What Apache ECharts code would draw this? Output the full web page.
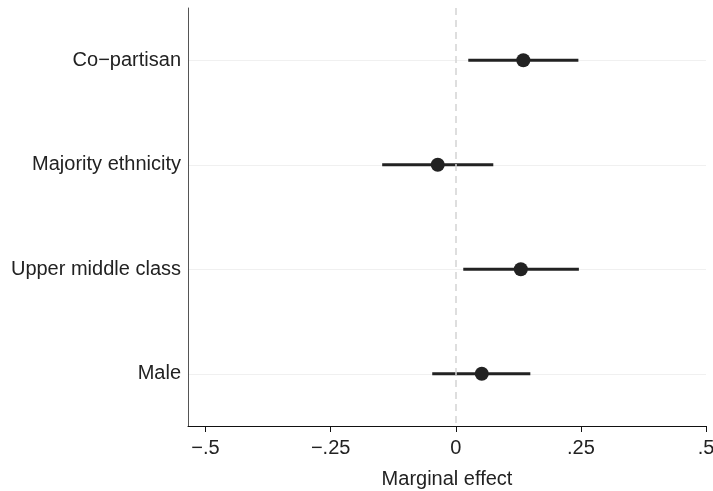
<!DOCTYPE html>
<html>
<head>
<meta charset="utf-8">
<script src="https://cdn.jsdelivr.net/npm/echarts@6/dist/echarts.min.js"></script>
<style>
  html, body { margin: 0; padding: 0; background: #fff; }
  #main { width: 713px; height: 491px; }
</style>
</head>
<body>
<div id="main"></div>
<script>
var categories = ['Co\u2212partisan', 'Majority ethnicity', 'Upper middle class', 'Male'];
var estimates = [0.135, -0.036, 0.130, 0.052];
var lower = [0.025, -0.147, 0.015, -0.047];
var upper = [0.245, 0.075, 0.246, 0.149];
var xTicks = [-0.5, -0.25, 0, 0.25, 0.5];
var xTickLabels = ['\u2212.5', '\u2212.25', '0', '.25', '.5'];

var chartDom = document.getElementById('main');
var myChart = echarts.init(chartDom);
var option;

var font = 'Liberation Sans, Arial, Helvetica, sans-serif';

var ciData = categories.map(function (c, i) { return [c, lower[i], upper[i]]; });
var pointData = categories.map(function (c, i) { return [estimates[i], c]; });

option = {
  animation: false,
  grid: { left: 188, right: 7, top: 8, bottom: 65, containLabel: false, outerBoundsMode: 'none' },
  xAxis: {
    type: 'value',
    min: -0.535,
    max: 0.5,
    name: 'Marginal effect',
    nameLocation: 'middle',
    nameGap: 43,
    nameTextStyle: { fontFamily: font, fontSize: 20, color: '#222' },
    axisLine: { show: true, onZero: false, lineStyle: { color: '#111', width: 1 } },
    axisTick: { show: true, length: 6, customValues: xTicks, lineStyle: { color: '#111' } },
    axisLabel: {
      customValues: xTicks,
      margin: 12,
      fontFamily: font,
      fontSize: 20,
      color: '#222',
      formatter: function (v) {
        var idx = xTicks.indexOf(v);
        return idx >= 0 ? xTickLabels[idx] : '';
      }
    },
    splitLine: { show: false }
  },
  yAxis: {
    type: 'category',
    data: categories,
    inverse: true,
    axisLine: { show: true, onZero: false, lineStyle: { color: '#555', width: 1 } },
    axisTick: { show: false },
    axisLabel: { margin: 7, fontFamily: font, fontSize: 20, color: '#222' },
    splitLine: { show: true, alignWithLabel: true, lineStyle: { color: '#f0f0f0', width: 1 } }
  },
  series: [
    {
      type: 'custom',
      data: ciData,
      dimensions: ['cat', 'lo', 'hi'],
      encode: { y: 0, x: [1, 2] },
      renderItem: function (params, api) {
        var a = api.coord([api.value(1), api.value(0)]);
        var b = api.coord([api.value(2), api.value(0)]);
        return {
          type: 'line',
          shape: { x1: a[0], y1: a[1], x2: b[0], y2: b[1] },
          style: { stroke: '#222', lineWidth: 3 }
        };
      },
      z: 2
    },
    {
      type: 'scatter',
      data: pointData,
      symbol: 'circle',
      symbolSize: 14,
      itemStyle: { color: '#222', opacity: 1 },
      markLine: {
        silent: true,
        symbol: 'none',
        label: { show: false },
        lineStyle: { color: '#d4d4d4', type: [7, 5], width: 1.5 },
        data: [{ xAxis: 0 }]
      },
      z: 3
    }
  ]
};

option && myChart.setOption(option);
</script>
</body>
</html>
